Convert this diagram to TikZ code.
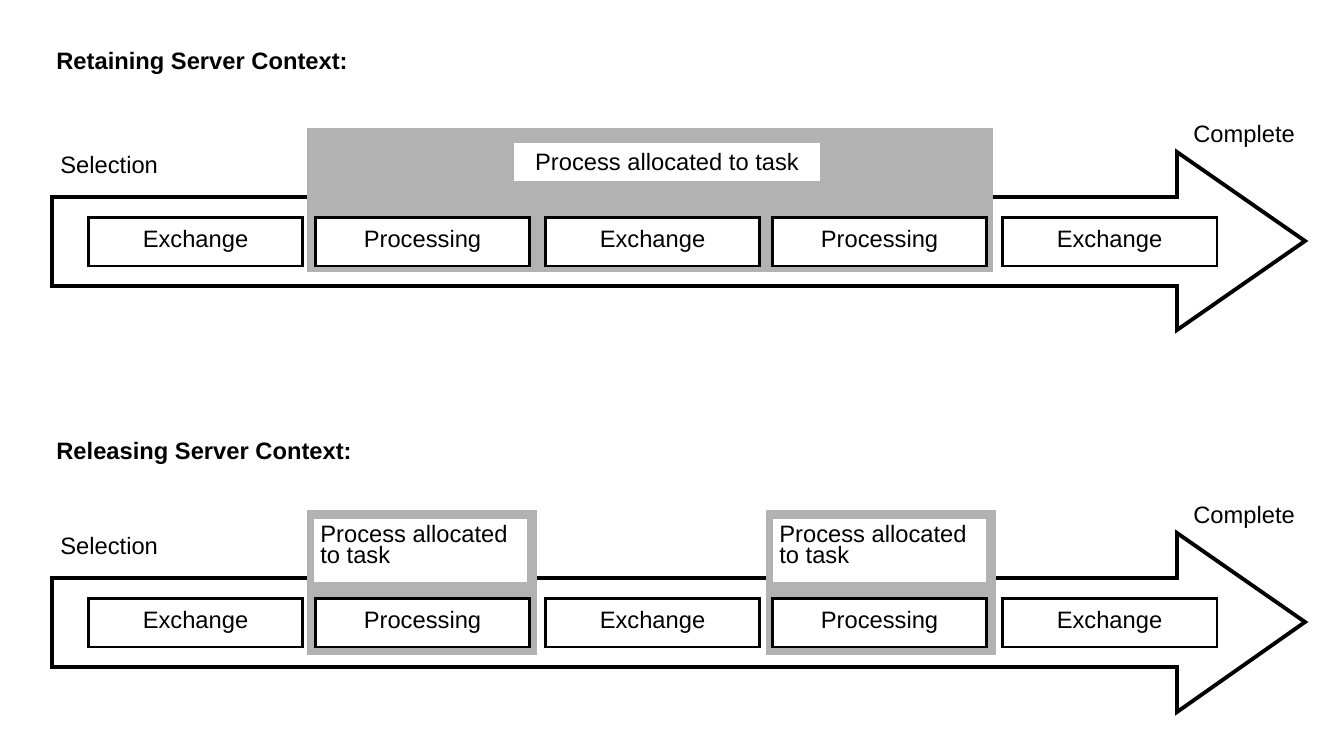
\documentclass[tikz,border=0pt]{standalone}
\usepackage{fontspec}
\setmainfont{Liberation Sans}
\usetikzlibrary{positioning}

\begin{document}
\begin{tikzpicture}[x=0.02cm, y=-0.02cm,
					font=\fontsize{13.5}{15}\selectfont,
					phase/.style={draw, line width=1.7pt, fill=white, minimum width=4.3cm, minimum height=0.98cm, inner sep=0pt},
					flow/.style={draw, line width=2.2pt, line join=miter},
					alloc/.style={fill=black!30},
					tag/.style={fill=white, inner sep=0pt, align=left, anchor=north west},
					title/.style={font=\fontsize{13.5}{15}\selectfont\bfseries, anchor=west, inner sep=0pt}]

	\useasboundingbox (0,0) rectangle (1332,737);

	% retaining
	\node[title] (t1) at (56,63) {Retaining Server Context:};
	\draw[flow] (52,197) -- (1177,197) -- (1177,152) -- (1305,241) -- (1177,330) -- (1177,286) -- (52,286) -- cycle;
	\fill[alloc] (307,128) rectangle (993,272);
	\node[fill=white, minimum width=6.12cm, minimum height=0.76cm] (a1) at (667,162) {Process allocated to task};
	\node[anchor=west, inner sep=0pt] (s1) at (60,165) {Selection};
	\node[anchor=west, inner sep=0pt] (c1) at (1193,136) {Complete};
	\node[phase] (e11) at (195.5,241.5) {Exchange};
	\node[phase] (p11) at (422.5,241.5) {Processing};
	\node[phase] (e12) at (652.5,241.5) {Exchange};
	\node[phase] (p12) at (879.5,241.5) {Processing};
	\node[phase] (e13) at (1109.5,241.5) {Exchange};

	% releasing
	\node[title] (t2) at (56,453) {Releasing Server Context:};
	\draw[flow] (52,578) -- (1177,578) -- (1177,533) -- (1305,622) -- (1177,712) -- (1177,667) -- (52,667) -- cycle;
	\foreach \x/\n in {307/l, 766/r} {
		\fill[alloc] (\x,510) rectangle (\x+230,655);
		\fill[white] (\x+7,519) rectangle (\x+220,582);
		\node[tag] (a2\n) at (\x+13,525) {Process allocated\\[-3pt]to task};
	}
	\node[anchor=west, inner sep=0pt] (s2) at (60,546) {Selection};
	\node[anchor=west, inner sep=0pt] (c2) at (1193,517) {Complete};
	\node[phase] (e21) at (195.5,622.5) {Exchange};
	\node[phase] (p21) at (422.5,622.5) {Processing};
	\node[phase] (e22) at (652.5,622.5) {Exchange};
	\node[phase] (p22) at (879.5,622.5) {Processing};
	\node[phase] (e23) at (1109.5,622.5) {Exchange};
\end{tikzpicture}
\end{document}
